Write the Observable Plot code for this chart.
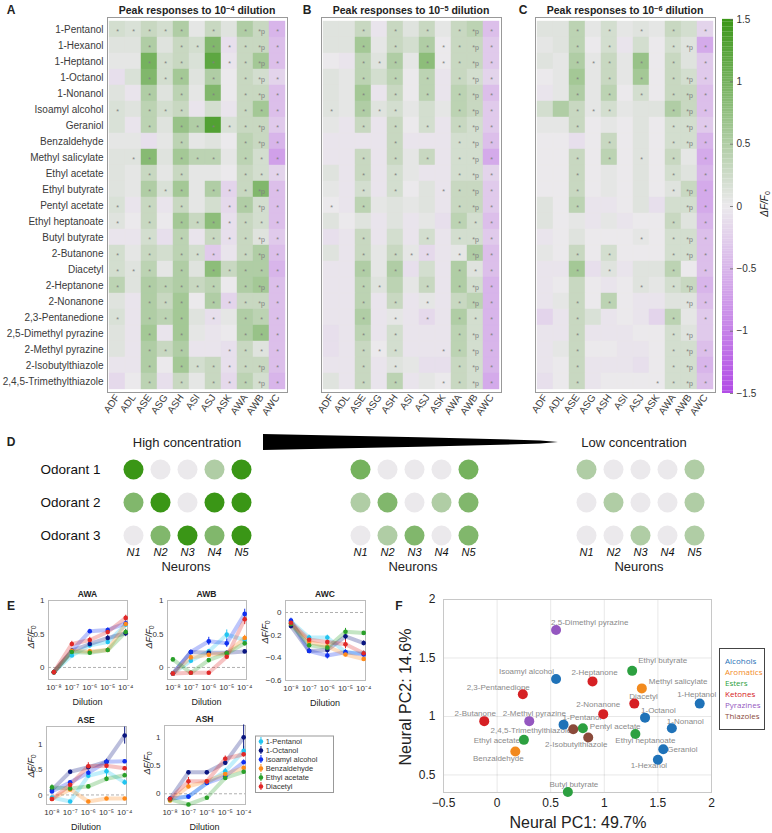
<!DOCTYPE html>
<html><head><meta charset="utf-8">
<script src="https://cdn.jsdelivr.net/npm/d3@7"></script>
<script src="https://cdn.jsdelivr.net/npm/@observablehq/plot@0.6"></script>
<style>
body{margin:0;background:#fff;}
#fig{position:relative;width:772px;height:833px;overflow:hidden;font-family:"Liberation Sans",Arial,Helvetica,sans-serif;color:#222;}
.lbl{position:absolute;white-space:nowrap;line-height:1;transform:translate(-50%,-50%);}
.sup{font-size:70%;position:relative;top:-0.45em;}
.sub{font-size:70%;position:relative;top:0.3em;}
</style></head><body><div id="fig"></div>
<script>
// ---------------- DATA ----------------
const neurons = ["ADF","ADL","ASE","ASG","ASH","ASI","ASJ","ASK","AWA","AWB","AWC"];
const odorants = ["1-Pentanol","1-Hexanol","1-Heptanol","1-Octanol","1-Nonanol","Isoamyl alcohol","Geraniol","Benzaldehyde","Methyl salicylate","Ethyl acetate","Ethyl butyrate","Pentyl acetate","Ethyl heptanoate","Butyl butyrate","2-Butanone","Diacetyl","2-Heptanone","2-Nonanone","2,3-Pentanedione","2,5-Dimethyl pyrazine","2-Methyl pyrazine","2-Isobutylthiazole","2,4,5-Trimethylthiazole"];

const valuesA = [
[0.2,0.15,0.3,0.2,0.5,0.05,0.3,0.1,0.5,0.3,-0.5],
[0.1,0.1,0.5,0.1,0.3,0.2,0.9,-0.1,0.3,0.3,-0.4],
[0.05,0.05,1.0,0.2,0.3,0.15,1.2,-0.05,0.3,0.6,-0.4],
[-0.1,0.15,0.9,0.2,0.6,0.1,0.5,0.0,0.3,0.2,-0.2],
[0.1,-0.05,0.5,0.1,0.4,0.05,0.9,0.0,0.3,0.3,-0.4],
[0.15,0.1,0.4,0.2,0.3,-0.05,0.2,-0.05,0.3,0.6,-0.4],
[0.15,-0.05,0.4,0.1,0.7,0.5,1.3,0.15,0.3,0.3,-0.3],
[0.05,0.05,-0.1,0.05,0.4,0.05,0.1,0.0,0.4,0.3,-0.5],
[0.1,0.1,0.85,0.1,0.6,0.4,0.4,0.05,0.4,0.2,-0.7],
[0.1,0.05,0.3,0.05,0.3,0.05,0.05,0.0,0.3,0.2,-0.2],
[0.1,0.05,0.5,0.15,0.6,0.05,0.5,-0.2,0.3,0.9,-0.4],
[0.15,-0.05,0.3,-0.05,0.3,0.05,0.2,-0.15,0.5,0.2,-0.4],
[0.1,0.0,0.3,0.0,0.6,0.3,0.8,-0.1,0.3,0.2,-0.4],
[-0.05,-0.05,0.2,-0.1,0.4,-0.05,0.3,-0.1,0.3,0.1,-0.3],
[0.2,0.05,0.3,0.2,0.4,0.2,-0.3,-0.05,0.3,0.5,-0.4],
[0.2,0.1,0.4,0.05,0.5,0.1,0.8,0.3,0.5,0.5,-0.5],
[0.4,0.1,0.5,0.4,0.5,0.3,0.4,0.0,0.5,0.6,-0.4],
[0.1,-0.05,0.5,0.3,0.6,0.0,0.5,-0.2,0.3,0.3,-0.4],
[0.15,-0.05,0.5,0.4,0.6,0.1,-0.1,0.05,0.5,0.4,-0.4],
[0.1,-0.05,0.6,-0.05,0.6,0.05,-0.05,0.0,0.5,0.7,-0.4],
[0.1,-0.05,0.5,0.3,0.5,-0.05,-0.05,-0.1,0.3,0.1,-0.4],
[-0.05,-0.05,0.5,0.0,0.6,0.2,0.3,-0.1,0.3,0.3,-0.4],
[-0.15,0.0,0.4,-0.1,0.3,0.05,0.3,-0.15,0.4,0.2,-0.5]];
const sigA = ["*****.*.*p*","..*.*****p*","..***.***p*","..***.*.*p*","..*.*.*.*p*","*.***...***","..*.*****p*","....*...*p*",".**.***.***","..*.*...***","..***.***p*","*.*.*..**p*","*.*.*******","..*.*.***p*","*.*.***.*p*","***.*.*****","*.*****.*p*","..***.***p*","*.***.*.***","..*.*...***","..***..****","..*.*****p*","..*.*.***p*"];

const valuesB = [
[0.1,0.1,0.3,-0.05,0.3,0.1,0.3,0.05,0.3,0.4,-0.4],
[0.1,0.1,0.6,0.05,0.3,0.2,0.5,0.0,0.3,0.3,-0.3],
[0.0,-0.05,0.4,0.1,0.5,0.05,0.8,0.0,0.3,0.3,-0.3],
[0.1,0.05,0.4,0.2,0.4,0.0,0.4,-0.05,0.3,0.2,-0.2],
[0.1,0.05,0.6,-0.05,0.3,0.0,0.4,-0.05,0.4,0.3,-0.4],
[0.1,0.05,0.5,0.1,0.2,0.05,0.2,0.05,0.4,0.3,-0.3],
[0.05,-0.05,0.3,-0.05,0.3,0.0,0.2,-0.05,0.3,0.2,-0.3],
[-0.05,-0.05,-0.05,-0.05,0.3,-0.05,-0.05,-0.05,0.2,0.2,-0.4],
[-0.05,-0.05,0.3,-0.05,0.3,0.05,0.3,-0.05,0.2,0.2,-0.6],
[0.1,-0.05,0.3,-0.05,0.2,0.05,-0.05,-0.05,0.2,0.2,-0.2],
[0.05,-0.05,0.2,-0.05,0.2,0.0,0.1,-0.05,0.3,0.3,-0.3],
[0.0,-0.05,0.4,0.05,0.1,0.05,0.1,-0.05,0.3,0.3,-0.3],
[0.1,0.0,0.1,-0.05,0.1,-0.05,0.05,-0.1,0.4,0.2,-0.4],
[-0.1,-0.05,0.3,-0.05,0.2,-0.05,0.2,-0.05,0.2,0.2,-0.3],
[0.1,-0.05,0.3,0.05,0.3,0.05,-0.15,-0.05,0.05,0.5,-0.4],
[-0.05,-0.05,0.5,0.05,0.5,-0.1,0.2,-0.05,0.5,0.1,-0.4],
[-0.05,-0.05,0.4,0.1,0.4,0.05,0.3,-0.05,0.5,0.2,-0.5],
[-0.05,-0.05,0.4,-0.05,0.3,-0.05,0.05,-0.05,0.3,0.4,-0.5],
[-0.05,-0.05,0.5,-0.05,0.05,-0.05,-0.15,-0.05,0.5,0.2,-0.5],
[-0.1,-0.05,0.4,-0.05,0.2,-0.05,-0.05,-0.05,0.4,0.2,-0.5],
[-0.1,-0.05,0.3,0.0,0.2,-0.05,-0.05,-0.05,0.4,0.2,-0.5],
[-0.05,-0.05,0.3,-0.05,0.1,0.05,-0.1,-0.1,0.3,0.2,-0.5],
[0.1,-0.05,0.3,-0.05,0.4,-0.05,0.05,0.0,0.3,0.2,-0.6]];
const sigB = ["..*.*.*.*p*","..*.*.***p*","..***.***p*","..*.*.*.*p*","..*.*.*.*p*","*.***...*p*","..*.*.*.*p*","....*...*p*","..*.*.*.*p*","..*.*...*p*","..*.*..**p*","*.*.....*p*","........***","..*...*.*p*","..*.***.*p*","..*.*...***","..**..*.*p*","..*.*.*.*p*","..*.*.*.***","..*.*...*p*","..***..**p*","..*.*...*p*","..*.*..**p*"];

const valuesC = [
[0.1,0.1,0.4,0.05,0.2,0.05,0.1,0.05,0.3,0.2,-0.2],
[0.05,0.1,0.4,0.0,0.2,-0.05,0.2,0.0,0.2,0.1,-0.6],
[0.1,0.05,0.5,0.05,0.3,0.05,0.7,0.0,0.3,0.1,-0.3],
[0.0,0.05,0.6,0.05,0.3,0.05,0.6,0.0,0.3,0.2,-0.3],
[-0.05,0.05,0.5,0.05,0.4,0.0,0.2,0.0,0.3,0.3,-0.4],
[0.2,0.5,0.3,0.05,0.2,0.05,0.1,0.1,0.5,0.3,-0.4],
[0.05,0.05,0.3,0.0,0.05,0.0,0.1,0.0,0.2,0.2,-0.3],
[0.0,0.0,-0.1,0.0,0.3,0.0,0.1,0.0,0.2,0.2,-0.5],
[0.0,0.0,0.3,0.0,0.4,0.0,0.1,0.0,0.3,0.05,-0.6],
[0.0,0.0,0.3,0.0,0.05,0.0,0.1,0.0,0.2,0.1,-0.5],
[0.0,0.0,0.3,0.0,0.05,0.0,0.1,0.0,0.1,0.3,-0.6],
[0.1,0.0,0.4,-0.05,-0.05,0.0,0.1,-0.1,0.2,0.2,-0.6],
[0.1,0.0,0.05,-0.05,0.05,-0.05,0.0,0.0,0.3,0.1,-0.5],
[-0.05,0.0,0.1,0.0,0.0,0.0,0.05,0.0,0.2,0.2,-0.4],
[0.05,0.0,0.3,0.0,0.2,0.0,0.0,0.0,0.2,0.2,-0.4],
[-0.05,-0.05,0.6,-0.1,0.1,-0.05,0.1,0.1,0.4,0.0,-0.4],
[-0.05,0.0,0.3,0.0,-0.05,0.0,0.1,0.05,0.2,0.3,-0.5],
[-0.05,0.05,0.3,0.0,0.4,0.0,-0.05,-0.05,0.1,0.1,-0.4],
[-0.2,-0.05,0.3,0.15,-0.05,0.0,-0.05,-0.2,0.4,0.05,-0.3],
[-0.05,-0.05,0.3,-0.05,-0.05,-0.05,0.0,0.0,0.2,0.1,-0.3],
[-0.05,0.05,0.3,0.0,0.0,-0.05,-0.05,0.0,0.2,0.2,-0.4],
[-0.05,0.0,0.3,-0.05,-0.05,-0.05,-0.1,0.0,0.2,0.2,-0.5],
[-0.1,0.0,0.3,-0.05,0.0,0.0,0.0,0.0,0.2,0.2,-0.4]];
const sigC = ["..*.*.*.*.*","..*.*...*p*","..***.*.*.*","..*.*.*.*p*","..*.*.*.*p*","..***...*p*","..*.....*p*","....*...*p*","..*.*.*.*.*","..*.....*.*","..*.....*p*","..*......p*","........*.*","......*.*p*","..*.*...*p*","..*.*...*.*","......*.*p*","..*.*....p*","..*.....*.*","..*.....*p.","..*.....*p*","..*.....*p*","..*....**p*"];
const colorbarTicks = [-1.5,-1,-0.5,0,0.5,1,1.5];

// Panel D schematic
const odorantsD = ["Odorant 1","Odorant 2","Odorant 3"];
const neuronsD = ["N1","N2","N3","N4","N5"];
const dHigh = [[1.5,0,0,0.5,1.5],[0.9,1.5,0,1.5,1.5],[0,0.9,1.5,0.9,1.5]];
const dMid  = [[1.0,0,0,0,1.0],[0.5,0.9,0,0.5,0.9],[0,0.5,0.9,0,0.9]];
const dLow  = [[0.5,0,0,0,0.5],[0,0.5,0,0,0.5],[0,0,0.5,0,0.5]];
const wedgeT = [0, 0.53, 0.94, 1];
const wedgeW = [1, 0.6, 0.2, 0];

// Panel E
const dilutions = [-8,-7,-6,-5,-4];
const odorantsE = ["1-Pentanol","1-Octanol","Isoamyl alcohol","Benzaldehyde","Ethyl acetate","Diacetyl"];
const colorsE = ["#22c4f0","#0a1680","#1030f0","#ff8a1a","#2aa02a","#e02828"];
const eAWA = [[-0.07,0.18,0.33,0.38,0.64],[-0.07,0.25,0.35,0.44,0.51],[-0.07,0.25,0.54,0.56,0.66],[-0.07,0.25,0.24,0.26,0.65],[-0.07,0.23,0.22,0.26,0.53],[-0.07,0.35,0.41,0.53,0.74]];
const errAWA = [[0.01,0.03,0.03,0.04,0.03],[0.01,0.03,0.03,0.04,0.05],[0.01,0.03,0.03,0.03,0.04],[0.01,0.03,0.03,0.03,0.04],[0.01,0.03,0.03,0.03,0.04],[0.01,0.04,0.04,0.04,0.04]];
const eAWB = [[-0.09,0.10,0.24,0.49,0.41],[-0.09,0.23,0.22,0.22,0.24],[-0.09,0.23,0.39,0.36,0.80],[-0.09,0.15,0.19,0.21,0.44],[0.12,-0.08,0.11,0.21,0.36],[-0.09,-0.08,-0.08,0.16,0.72]];
const errAWB = [[0.01,0.03,0.03,0.07,0.04],[0.01,0.02,0.02,0.02,0.02],[0.01,0.03,0.06,0.06,0.07],[0.01,0.02,0.02,0.03,0.04],[0.02,0.01,0.02,0.03,0.03],[0.01,0.01,0.01,0.03,0.08]];
const eAWC = [[-0.08,-0.22,-0.22,-0.35,-0.36],[-0.12,-0.34,-0.33,-0.21,-0.27],[-0.07,-0.34,-0.38,-0.35,-0.37],[-0.10,-0.26,-0.30,-0.37,-0.41],[-0.10,-0.29,-0.31,-0.17,-0.18],[-0.09,-0.24,-0.26,-0.28,-0.36]];
const errAWC = [[0.02,0.02,0.02,0.02,0.02],[0.02,0.02,0.02,0.04,0.02],[0.02,0.02,0.03,0.02,0.02],[0.02,0.02,0.02,0.02,0.02],[0.02,0.02,0.03,0.03,0.01],[0.02,0.02,0.02,0.04,0.02]];
const eASE = [[-0.05,-0.13,0.38,0.47,0.25],[0.10,0.46,0.55,0.66,1.18],[0.07,0.25,0.44,0.66,0.67],[-0.08,0.11,-0.13,-0.07,-0.07],[0.15,0.13,0.17,0.32,0.39],[-0.08,0.20,0.57,0.58,0.53]];
const errASE = [[0.02,0.02,0.04,0.2,0.05],[0.03,0.03,0.04,0.05,0.17],[0.03,0.03,0.05,0.04,0.03],[0.02,0.03,0.02,0.02,0.02],[0.05,0.03,0.02,0.05,0.04],[0.02,0.04,0.07,0.05,0.03]];
const eASH = [[-0.09,-0.05,0.19,0.40,0.76],[-0.09,0.38,0.38,0.55,1.00],[-0.09,-0.05,0.19,0.31,0.56],[-0.12,0.13,0.22,0.35,0.46],[-0.10,-0.19,-0.07,0.28,0.39],[-0.09,0.22,0.22,0.62,0.70]];
const errASH = [[0.02,0.02,0.03,0.05,0.08],[0.02,0.03,0.03,0.05,0.22],[0.02,0.02,0.03,0.04,0.04],[0.02,0.04,0.03,0.04,0.03],[0.02,0.02,0.02,0.04,0.03],[0.02,0.07,0.03,0.05,0.05]];

// Panel F
const namesF = ["2,5-Dimethyl pyrazine","Ethyl butyrate","Isoamyl alcohol","2-Heptanone","Methyl salicylate","2,3-Pentanedione","Diacetyl","1-Heptanol","2-Nonanone","1-Octanol","2-Butanone","2-Methyl pyrazine","1-Pentanol","Pentyl acetate","1-Nonanol","2,4,5-Trimethylthiazole","Ethyl heptanoate","Ethyl acetate","2-Isobutylthiazole","Geraniol","Benzaldehyde","1-Hexanol","Butyl butyrate"];
const pc1 = [0.55,1.26,0.55,0.89,1.35,0.24,1.28,1.89,0.99,1.38,-0.12,0.30,0.62,0.80,1.63,0.71,1.29,0.25,0.85,1.55,0.17,1.50,0.66];
const pc2 = [1.74,1.39,1.32,1.30,1.24,1.19,1.11,1.11,1.02,0.99,0.96,0.96,0.93,0.90,0.90,0.89,0.85,0.80,0.82,0.72,0.70,0.63,0.355];
const classF = ["Pyrazines","Esters","Alcohols","Ketones","Aromatics","Ketones","Ketones","Alcohols","Ketones","Alcohols","Ketones","Pyrazines","Alcohols","Esters","Alcohols","Thiazoles","Esters","Esters","Thiazoles","Alcohols","Aromatics","Alcohols","Esters"];
const classes = ["Alcohols","Aromatics","Esters","Ketones","Pyrazines","Thiazoles"];
const classColors = ["#1f72b8","#f28a1e","#2ca040","#d62024","#9457c0","#8a4a3a"];

// ---------------- LAYOUT HELPERS ----------------
const FONT = '"Liberation Sans", Arial, Helvetica, sans-serif';
const fig = document.getElementById("fig");
function place(el, left, top) { el.style.position = "absolute"; el.style.left = left + "px"; el.style.top = top + "px"; el.style.overflow = "visible"; fig.appendChild(el); return el; }
function label(html, x, y, css = "") { const d = document.createElement("div"); d.className = "lbl"; d.innerHTML = html; d.style.cssText += `left:${x}px;top:${y}px;` + css; fig.appendChild(d); return d; }
const fmt = d => String(d).replace("-", "\u2212");
const supMap = {"-":"\u207B","0":"\u2070","1":"\u00B9","2":"\u00B2","3":"\u00B3","4":"\u2074","5":"\u2075","6":"\u2076","7":"\u2077","8":"\u2078","9":"\u2079"};
const pow10 = d => "10" + String(d).split("").map(c => supMap[c]).join("");
const heatColor = {type: "linear", domain: [-1.5, 0, 1.5], range: ["#b24ce6", "#ebe9ec", "#3a9616"], clamp: true};

// ---------------- PANELS A-C ----------------
function heatmap(vals, sigs, frameLeft, showY) {
  const rows = [];
  odorants.forEach((o, i) => neurons.forEach((n, j) => rows.push({o, n, v: vals[i][j], s: sigs[i][j]})));
  const ml = showY ? 107 : 4, mt = 17, fw = 180, fh = 375;
  const svg = Plot.plot({
    width: ml + fw + 4, height: mt + fh + 45,
    marginLeft: ml, marginRight: 4, marginTop: mt, marginBottom: 45,
    style: {fontFamily: FONT, fontSize: "10px", color: "#3a3a3a", background: "transparent"},
    x: {domain: neurons, padding: 0, label: null, tickRotate: -55, tickSize: 0, tickPadding: 3},
    y: {domain: odorants, padding: 0, label: null, tickSize: 0, tickPadding: 4, axis: showY ? "left" : null},
    color: heatColor,
    marks: [
      Plot.cell(rows, {x: "n", y: "o", fill: "v", stroke: "v", strokeWidth: 0.4, inset: 0}),
      Plot.text(rows.filter(d => d.s !== "."), {x: "n", y: "o", text: d => d.s === "p" ? "*p" : "*", fill: "#808080", fontSize: 7, dy: 2}),
      Plot.frame({stroke: "#999"})
    ]
  });
  place(svg, frameLeft - ml, 0);
}
heatmap(valuesA, sigA, 107, true);
heatmap(valuesB, sigB, 321, false);
heatmap(valuesC, sigC, 535, false);

// colorbar
const cbSteps = d3.range(-1.5, 1.5, 0.02);
place(Plot.plot({
  width: 11 + 40, height: 19 + 374 + 12, marginTop: 19, marginBottom: 12, marginLeft: 0, marginRight: 40,
  style: {fontFamily: FONT, fontSize: "10px", color: "#333", background: "transparent"},
  x: {domain: [0, 1], axis: null},
  y: {domain: [-1.5, 1.5], ticks: colorbarTicks, tickFormat: fmt, axis: "right", tickSize: 0, tickPadding: 3, label: null},
  color: heatColor,
  marks: [
    Plot.rect(cbSteps, {x1: () => 0, x2: () => 1, y1: d => d, y2: d => d + 0.021, fill: d => d + 0.01}),
    Plot.tickY(colorbarTicks, {y: d => d, stroke: "#666", strokeWidth: 0.8, insetLeft: 8})
  ]
}), 722, 0);

label('<i>&Delta;F/F</i><span class="sub">0</span>', 765, 204, "transform:translate(-50%,-50%) rotate(-90deg);font-size:10px;");

const titleCss = "font-size:10.5px;font-weight:bold;";
label('Peak responses to 10<span class="sup">\u22124</span> dilution', 197, 10, titleCss);
label('Peak responses to 10<span class="sup">\u22125</span> dilution', 411, 10, titleCss);
label('Peak responses to 10<span class="sup">\u22126</span> dilution', 625, 10, titleCss);
const letterCss = "font-size:12px;font-weight:bold;";
label("A", 11, 10, letterCss); label("B", 307, 10, letterCss); label("C", 523, 10, letterCss);

// ---------------- PANEL D ----------------
function dGroup(vals, firstCenter, showY) {
  const rows = [];
  odorantsD.forEach((o, i) => neuronsD.forEach((n, j) => rows.push({o, n, v: vals[i][j]})));
  const ml = 110, mt = 18;
  const svg = Plot.plot({
    width: ml + 108 + 30, height: mt + 67 + 35,
    marginLeft: ml, marginRight: 30, marginTop: mt, marginBottom: 35,
    style: {fontFamily: FONT, fontSize: "11px", color: "#111", background: "transparent"},
    x: {type: "point", domain: neuronsD, padding: 0, label: null, tickSize: 0, tickPadding: 13},
    y: {type: "point", domain: odorantsD, padding: 0, label: null, tickSize: 0, tickPadding: 33, axis: showY ? "left" : null},
    color: heatColor,
    marks: [
      Plot.dot(rows, {x: "n", y: "o", r: 10, fill: "v"})
    ]
  });
  svg.querySelectorAll('[aria-label="x-axis tick label"] text').forEach(t => t.style.fontStyle = "italic");
  svg.querySelectorAll('[aria-label="y-axis tick label"]').forEach(g => g.style.fontSize = "13.5px");
  place(svg, firstCenter - ml, 450);
}
dGroup(dHigh, 133, true);
dGroup(dMid, 360, false);
dGroup(dLow, 586, false);
// wedge (concentration gradient)
const wedge = wedgeT.map((t, i) => ({t, w: wedgeW[i]}));
place(Plot.plot({
  width: 295, height: 16, margin: 0,
  x: {domain: [0, 1], axis: null}, y: {domain: [-1, 1], axis: null},
  marks: [Plot.areaY(wedge, {x: "t", y1: d => -d.w, y2: "w", fill: "black"})]
}), 263, 434);
label("D", 11, 442, letterCss);
label("High concentration", 187, 442, "font-size:13px;");
label("Low concentration", 634, 442, "font-size:13px;");
[186, 413, 639].forEach(x => label("Neurons", x, 566, "font-size:13px;"));

// ---------------- PANEL E ----------------
const eData = {AWA: [eAWA, errAWA], AWB: [eAWB, errAWB], AWC: [eAWC, errAWC], ASE: [eASE, errASE], ASH: [eASH, errASH]};
function ePlot(name, frameLeft, frameTop, fw, fh, yDomain, yTicks) {
  const [vals, errs] = eData[name];
  const rows = [];
  odorantsE.forEach((o, i) => dilutions.forEach((d, j) => rows.push({o, d, v: vals[i][j], e: errs[i][j]})));
  const ml = 30, mt = 4, mr = 6, mb = 22;
  const svg = Plot.plot({
    width: ml + fw + mr, height: mt + fh + mb,
    marginLeft: ml, marginRight: mr, marginTop: mt, marginBottom: mb,
    style: {fontFamily: FONT, fontSize: "8px", color: "#333", background: "transparent"},
    x: {domain: [-8.3, -3.9], ticks: dilutions, tickFormat: pow10, tickSize: 0, tickPadding: 5, label: null},
    y: {domain: yDomain, ticks: yTicks, tickFormat: fmt, tickSize: 0, tickPadding: 4, label: null},
    color: {domain: odorantsE, range: colorsE},
    marks: [
      Plot.frame({stroke: "#bbb"}),
      Plot.ruleY([0], {stroke: "#b0b0b0", strokeDasharray: "3,2"}),
      Plot.line(rows, {x: "d", y: "v", stroke: "o", strokeWidth: 4, strokeOpacity: 0.28}),
      Plot.ruleX(rows, {x: "d", y1: d => d.v - d.e, y2: d => d.v + d.e, stroke: "o", strokeWidth: 1}),
      Plot.dot(rows, {x: "d", y: "v", fill: "o", r: 2.3})
    ]
  });
  place(svg, frameLeft - ml, frameTop - mt);
  const tc = "font-size:8.5px;font-weight:bold;";
  label(name, frameLeft + fw / 2, frameTop - 6, tc);
  label("Dilution", frameLeft + fw / 2, frameTop + fh + 23, "font-size:9px;");
}
ePlot("AWA", 48, 600, 79, 79, [-0.18, 1], [0, 0.5, 1]);
ePlot("AWB", 167, 600, 79, 79, [-0.18, 1], [0, 0.5, 1]);
ePlot("AWC", 285, 600, 80, 80, [-0.6, 0.106], [-0.6, -0.4, -0.2, 0]);
ePlot("ASE", 46, 726, 80, 78, [-0.19, 1.36], [0, 0.5, 1]);
ePlot("ASH", 164, 725, 81, 79, [-0.19, 1.21], [0, 0.5, 1]);
const dff = '<i>&Delta;F/F</i><span class="sub">0</span>';
const rot = "transform:translate(-50%,-50%) rotate(-90deg);font-size:9px;";
label(dff, 31, 637, rot); label(dff, 149, 637, rot); label(dff, 265, 632, rot);
label(dff, 31, 766, rot); label(dff, 147, 763, rot);
label("E", 11, 606, letterCss);

// E legend
place(Plot.plot({
  width: 78, height: 58, marginTop: 0.5, marginBottom: 1, marginLeft: 0, marginRight: 0,
  style: {fontFamily: FONT, fontSize: "7.5px", color: "#333", background: "#fff"},
  x: {domain: [0, 1], axis: null},
  y: {type: "band", domain: odorantsE, padding: 0.15, axis: null},
  color: {domain: odorantsE, range: colorsE},
  marks: [
    Plot.frame({stroke: "#999"}),
    Plot.tickX(odorantsE, {x: () => 0.07, y: d => d, stroke: d => d, strokeWidth: 1}),
    Plot.dot(odorantsE, {x: () => 0.07, y: d => d, fill: d => d, r: 2.3}),
    Plot.text(odorantsE, {x: () => 0.13, y: d => d, text: d => d, textAnchor: "start", fill: "#333"})
  ]
}), 255, 735);

// ---------------- PANEL F ----------------
const rowsF = namesF.map((n, i) => ({n, pc1: pc1[i], pc2: pc2[i], cls: classF[i]}));
const fLabelPlacement = [[-5,-7,"start"],[6,-10,"start"],[-2,-8,"end"],[2,-9,"middle"],[7,-7,"start"],[7,-7,"end"],[-5,-7,"start"],[-3,-9,"middle"],[-5,-10,"middle"],[-4,-7,"start"],[-9,-8,"middle"],[5,-8,"middle"],[-1,-7,"start"],[7,-2,"start"],[-5,-7,"start"],[-2,1,"end"],[10,6,"middle"],[-4,1,"end"],[-12,7,"middle"],[4,0,"start"],[-17,7,"middle"],[-9,6,"middle"],[6,-7,"middle"]];
const fLabels = rowsF.map((r, i) => Plot.text([r], {x: "pc1", y: "pc2", text: "n", dx: fLabelPlacement[i][0], dy: fLabelPlacement[i][1], textAnchor: fLabelPlacement[i][2], fill: "#8a8a8a", fontSize: 8}));
place(Plot.plot({
  width: 340, height: 242, marginLeft: 63, marginRight: 9, marginTop: 9, marginBottom: 40,
  style: {fontFamily: FONT, fontSize: "12px", color: "#222", background: "transparent"},
  x: {domain: [-0.5, 2], ticks: [-0.5, 0, 0.5, 1, 1.5, 2], tickFormat: fmt, tickSize: 0, tickPadding: 6, label: null, grid: true},
  y: {domain: [0.35, 2], ticks: [0.5, 1, 1.5, 2], tickFormat: fmt, tickSize: 0, tickPadding: 8, label: null, grid: true},
  color: {domain: classes, range: classColors},
  marks: [
    Plot.frame({stroke: "#c8c8c8"}),
    ...fLabels,
    Plot.dot(rowsF, {x: "pc1", y: "pc2", fill: "cls", r: 5})
  ]
}), 380, 590);
label("Neural PC1: 49.7%", 578, 823, "font-size:16px;");
label("Neural PC2: 14.6%", 406, 697, "transform:translate(-50%,-50%) rotate(-90deg);font-size:16px;");
label("F", 399, 606, letterCss);
// F legend
const leg = document.createElement("div");
leg.style.cssText = "position:absolute;left:719px;top:648px;width:46px;height:82px;border:1px solid #444;background:#fff;font-family:'Open Sans',sans-serif;font-size:8px;line-height:11px;padding:6px 0 0 5px;box-sizing:border-box;";
leg.innerHTML = classes.map((c, i) => `<div style="color:${classColors[i]}">${c}</div>`).join("");
fig.appendChild(leg);
</script></body></html>
